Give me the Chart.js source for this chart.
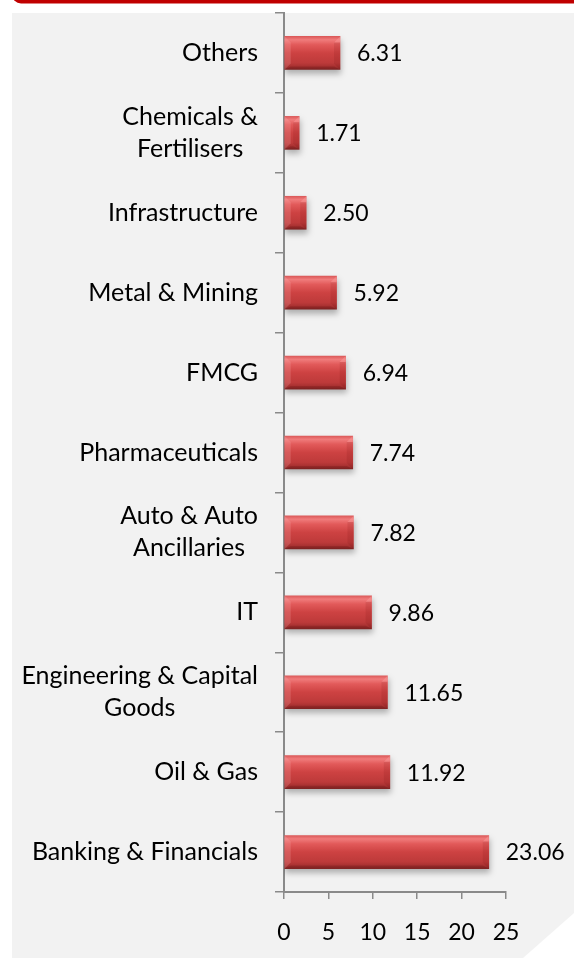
<!DOCTYPE html>
<html>
<head>
<meta charset="utf-8">
<script src="https://cdn.jsdelivr.net/npm/chart.js@4.4.0/dist/chart.umd.min.js"></script>
<style>
  html, body { margin: 0; padding: 0; background: #ffffff; }
  #wrap { position: relative; width: 574px; height: 958px; }
  canvas { display: block; }
</style>
</head>
<body>
<div id="wrap"><canvas id="c" width="574" height="958"></canvas></div>
<script>
// Sector allocation (%), listed top to bottom as drawn
const sectors = [
  ["Others"],
  ["Chemicals &", "Fertilisers"],
  ["Infrastructure"],
  ["Metal & Mining"],
  ["FMCG"],
  ["Pharmaceuticals"],
  ["Auto & Auto", "Ancillaries"],
  ["IT"],
  ["Engineering & Capital", "Goods"],
  ["Oil & Gas"],
  ["Banking & Financials"]
];
const weights = [6.31, 1.71, 2.50, 5.92, 6.94, 7.74, 7.82, 9.86, 11.65, 11.92, 23.06];
const axisMin = 0;
const axisMax = 25;
const axisStep = 5;

const FONT = "Lato, 'Open Sans', sans-serif";
const AXIS_GREY = '#8a8a8a';
const BAR_H = 33;

// Panel backdrop: grey card, red header edge, clipped lower-right corner
const backdrop = {
  id: 'backdrop',
  beforeDraw(chart) {
    const ctx = chart.ctx;
    const W = chart.width, H = chart.height;
    ctx.save();
    ctx.fillStyle = '#ffffff';
    ctx.fillRect(0, 0, W, H);
    // red header edge
    ctx.fillStyle = '#c00000';
    ctx.beginPath();
    ctx.roundRect(12, -30, W + 20, 33.5, 9);
    ctx.fill();
    // grey card
    ctx.fillStyle = '#f2f2f2';
    ctx.beginPath();
    ctx.moveTo(12, 13);
    ctx.lineTo(W, 13);
    ctx.lineTo(W, 913);
    ctx.lineTo(523, H);
    ctx.lineTo(12, H);
    ctx.closePath();
    ctx.fill();
    ctx.restore();
  }
};

// Soft drop shadow under the bars
const barShadow = {
  id: 'barShadow',
  beforeDatasetsDraw(chart) {
    const ctx = chart.ctx;
    ctx.save();
    ctx.shadowColor = 'rgba(0,0,0,0.28)';
    ctx.shadowBlur = 6;
    ctx.shadowOffsetX = 1;
    ctx.shadowOffsetY = 4;
  },
  afterDatasetsDraw(chart) {
    chart.ctx.restore();
  }
};

// Bevelled ends and edges on each bar, plus the value labels
const barFinish = {
  id: 'barFinish',
  afterDatasetsDraw(chart) {
    const ctx = chart.ctx;
    const meta = chart.getDatasetMeta(0);
    ctx.save();
    meta.data.forEach((bar, i) => {
      const p = bar.getProps(['x', 'y', 'base', 'height'], true);
      const l = Math.min(p.base, p.x), r = Math.max(p.base, p.x);
      const t = p.y - p.height / 2, b = p.y + p.height / 2;
      const bv = Math.min(6, (r - l) / 2);
      // left end bevel (light)
      ctx.fillStyle = 'rgba(255,190,190,0.20)';
      ctx.beginPath();
      ctx.moveTo(l, t); ctx.lineTo(l + bv, t + bv); ctx.lineTo(l + bv, b - bv); ctx.lineTo(l, b);
      ctx.closePath(); ctx.fill();
      // right end bevel (highlight at top, soft shade below)
      ctx.fillStyle = 'rgba(255,170,170,0.35)';
      ctx.beginPath();
      ctx.moveTo(r, t); ctx.lineTo(r - bv, t + bv); ctx.lineTo(r, t + bv);
      ctx.closePath(); ctx.fill();
      ctx.fillStyle = 'rgba(90,0,0,0.10)';
      ctx.beginPath();
      ctx.moveTo(r, t + bv); ctx.lineTo(r, b); ctx.lineTo(r - bv, b - bv); ctx.lineTo(r - bv, t + bv);
      ctx.closePath(); ctx.fill();
      // bottom edge (dark)
      ctx.fillStyle = 'rgba(70,0,0,0.16)';
      ctx.beginPath();
      ctx.moveTo(l, b); ctx.lineTo(l + bv, b - 3); ctx.lineTo(r - bv, b - 3); ctx.lineTo(r, b);
      ctx.closePath(); ctx.fill();
      // value label
      ctx.fillStyle = '#000000';
      ctx.font = '23px ' + FONT;
      ctx.textAlign = 'left';
      ctx.textBaseline = 'middle';
      ctx.fillText(weights[i].toFixed(2), r + 17, p.y + 1);
    });
    ctx.restore();
  }
};

// Category names: block right-aligned against the axis, lines centred within the block
const sectorLabels = {
  id: 'sectorLabels',
  afterDraw(chart) {
    const ctx = chart.ctx;
    const ys = chart.scales.y;
    const rightEdge = ys.right - 26;
    const lineH = 32;
    ctx.save();
    ctx.font = '25px ' + FONT;
    ctx.fillStyle = '#000000';
    ctx.textAlign = 'center';
    ctx.textBaseline = 'middle';
    sectors.forEach((lines, i) => {
      const yc = ys.getPixelForValue(i);
      const w = Math.max(...lines.map(s => ctx.measureText(s).width));
      const cx = rightEdge - w / 2;
      const y0 = yc - (lines.length - 1) * lineH / 2;
      lines.forEach((s, k) => ctx.fillText(s, cx, y0 + k * lineH));
    });
    ctx.restore();
  }
};

function barFill(context) {
  const chart = context.chart;
  const ys = chart.scales && chart.scales.y;
  if (!chart.chartArea || !ys) return '#c93e3e';
  const yc = ys.getPixelForValue(context.dataIndex);
  const g = chart.ctx.createLinearGradient(0, yc - BAR_H / 2, 0, yc + BAR_H / 2);
  g.addColorStop(0.00, '#dc5a5a');
  g.addColorStop(0.10, '#f07c7c');
  g.addColorStop(0.25, '#e25a5a');
  g.addColorStop(0.50, '#cd4242');
  g.addColorStop(0.80, '#bd3a3a');
  g.addColorStop(0.92, '#a53030');
  g.addColorStop(1.00, '#862828');
  return g;
}

new Chart(document.getElementById('c'), {
  type: 'bar',
  data: {
    labels: sectors.map(s => s.join(' ')),
    datasets: [{
      data: weights,
      backgroundColor: barFill,
      borderWidth: 0,
      barThickness: BAR_H
    }]
  },
  options: {
    indexAxis: 'y',
    responsive: false,
    animation: false,
    devicePixelRatio: 1,
    layout: { padding: { left: 0, top: 13, right: 68, bottom: 0 } },
    plugins: {
      legend: { display: false },
      tooltip: { enabled: false }
    },
    scales: {
      y: {
        type: 'category',
        ticks: { display: false },
        grid: {
          offset: true,
          drawOnChartArea: false,
          drawTicks: true,
          tickLength: 9,
          color: AXIS_GREY,
          lineWidth: 1.5
        },
        border: { display: true, color: AXIS_GREY, width: 2 },
        afterFit(scale) { scale.width = 284; }
      },
      x: {
        min: axisMin,
        max: axisMax,
        ticks: {
          stepSize: axisStep,
          color: '#000000',
          padding: 20,
          font: { family: FONT, size: 23 }
        },
        grid: {
          drawOnChartArea: false,
          drawTicks: true,
          tickLength: 7,
          color: AXIS_GREY,
          lineWidth: 1.5
        },
        border: { display: true, color: AXIS_GREY, width: 2 },
        afterFit(scale) { scale.height = 66; }
      }
    }
  },
  plugins: [backdrop, barShadow, barFinish, sectorLabels]
});
</script>
</body>
</html>
